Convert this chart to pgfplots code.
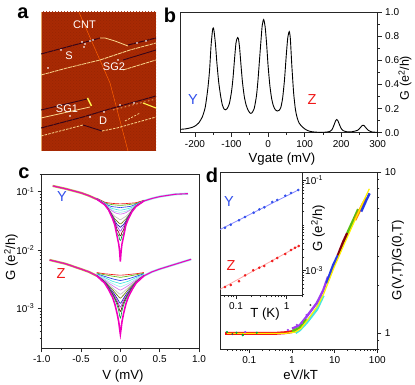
\documentclass[border=0pt]{standalone}
\usepackage{fontspec}
\setmainfont{Liberation Sans}
\usepackage{pgfplots}
\usepackage{pgfplotstable}
\usetikzlibrary{patterns}
\pgfplotsset{compat=1.18}
\definecolor{colr}{RGB}{240,20,20}
\definecolor{colg}{RGB}{90,190,20}
\definecolor{colb}{RGB}{40,60,230}
\definecolor{colc}{RGB}{70,230,225}
\definecolor{coll}{RGB}{160,240,240}
\definecolor{colv}{RGB}{215,110,240}
\definecolor{cola}{RGB}{190,190,190}
\definecolor{colo}{RGB}{110,130,10}
\definecolor{coln}{RGB}{25,25,160}
\definecolor{colu}{RGB}{160,60,240}
\definecolor{cold}{RGB}{130,0,20}
\definecolor{colf}{RGB}{0,170,60}
\definecolor{colm}{RGB}{240,0,190}
\definecolor{afm}{RGB}{168,42,4}
\definecolor{afmd}{RGB}{152,36,2}
\definecolor{dkc}{RGB}{55,5,25}
\definecolor{lite}{RGB}{250,215,140}
\definecolor{lblue}{RGB}{50,80,235}
\definecolor{lred}{RGB}{240,25,25}
\newcommand{\tl}{\fontsize{10}{10}\selectfont}
\newcommand{\al}{\fontsize{13.2}{14}\selectfont}
\newcommand{\pl}{\fontsize{20}{20}\bfseries}
\newcommand{\il}{\fontsize{11}{11}\selectfont}
\newcommand{\yz}{\fontsize{14.5}{15}\selectfont}
\pgfplotstableread{
V r g b c l v a o n u d f m
-0.3 .077 .076 .076 .075 .075 .075 .075 .074 .074 .074 .074 .074 .074
-0.2 .066 .0645 .0635 .063 .0625 .062 .061 .0605 .0603 .06 .06 .06 .0595
-0.15 .064 .0615 .058 .0555 .0535 .0525 .051 .05 .0495 .049 .0488 .0487 .0485
-0.1 .0628 .0595 .055 .051 .048 .046 .0415 .039 .038 .037 .036 .0355 .0345
-0.07 .0622 .059 .0545 .050 .046 .0435 .0375 .034 .0315 .03 .029 .0275 .0265
-0.04 .0618 .0585 .054 .049 .045 .042 .0355 .031 .027 .025 .022 .019 .0167
-0.02 .0617 .0582 .0535 .0483 .0446 .0416 .034 .029 .026 .023 .020 .0175 .0125
-0.01 .0615 .058 .0532 .048 .0442 .0412 .0333 .0283 .025 .0215 .018 .0152 .0095
0 .0615 .058 .053 .048 .044 .041 .033 .028 .0245 .021 .0175 .0145 .0063
0.01 .0615 .058 .0532 .048 .0442 .0412 .0333 .0283 .025 .0215 .018 .0152 .0095
0.02 .0617 .0582 .0535 .0483 .0446 .0416 .034 .029 .026 .023 .020 .0175 .0125
0.04 .0618 .0585 .054 .049 .045 .042 .0355 .031 .027 .025 .022 .019 .0167
0.07 .0622 .059 .0545 .050 .046 .0435 .0375 .034 .0315 .03 .029 .0275 .0265
0.1 .0628 .0595 .055 .051 .048 .046 .041 .038 .037 .036 .0352 .035 .0335
0.15 .0635 .061 .057 .054 .052 .0505 .049 .048 .0472 .047 .0465 .046 .0455
0.2 .0645 .0625 .061 .0595 .0585 .058 .0575 .057 .0565 .0565 .056 .056 .0555
0.3 .071 .07 .07 .07 .07 .07 .069 .069 .069 .069 .069 .069 .069
}\Ytab
\pgfplotstableread{
V r g b c l v a o n u d f m
-0.3 .0041 .0040 .0039 .0038 .00375 .0037 .0037 .00365 .00365 .0036 .0036 .0036 .0036
-0.2 .0039 .00375 .00352 .00335 .00318 .00305 .00295 .00288 .00284 .0028 .00278 .00275 .0027
-0.15 .00385 .00365 .00335 .00312 .0029 .00272 .00258 .00245 .00235 .0023 .00225 .00222 .0021
-0.1 .00378 .00355 .0032 .0029 .00266 .00245 .00224 .0021 .00194 .00185 .00178 .00172 .00155
-0.07 .00375 .0035 .00312 .00282 .00254 .0023 .00207 .00187 .0017 .0016 .0015 .00142 .00118
-0.04 .00372 .00345 .00306 .00275 .00244 .00218 .0019 .00168 .00147 .00135 .00124 .00112 .0008
-0.02 .0037 .00342 .00302 .0027 .00238 .0021 .0018 .00157 .00132 .00118 .00104 .0009 .00058
-0.01 .0037 .0034 .003 .00267 .00235 .00207 .00176 .00152 .00125 .00109 .00093 .00075 .00045
0 .0037 .0034 .00298 .00265 .00233 .00205 .00174 .00149 .00122 .00105 .00088 .00068 .00036
0.01 .0037 .0034 .003 .00267 .00235 .00207 .00176 .00152 .00125 .00109 .00093 .00075 .00045
0.02 .0037 .00342 .00302 .0027 .00238 .0021 .0018 .00157 .00132 .00118 .00104 .0009 .00058
0.04 .00372 .00345 .00306 .00275 .00244 .00218 .0019 .00168 .00147 .00135 .00124 .00112 .0008
0.07 .00375 .0035 .00312 .00282 .00254 .0023 .00207 .00187 .0017 .0016 .0015 .00142 .00118
0.1 .00378 .00355 .0032 .0029 .00266 .00245 .00224 .0021 .00194 .00185 .00178 .00172 .00155
0.15 .00385 .00365 .00335 .00312 .0029 .00272 .00258 .00245 .00235 .0023 .00225 .00222 .0021
0.2 .0039 .00375 .00352 .00335 .00318 .00305 .00295 .00288 .00284 .0028 .00278 .00275 .0027
0.3 .0041 .0040 .0039 .0038 .00375 .0037 .0037 .00365 .00365 .0036 .0036 .0036 .0036
}\Ztab
\pgfplotsset{every axis/.append style={
  scale only axis, axis line style={line width=0.9pt,black!85},
  tick style={line width=0.7pt,black!85}, tick align=outside,
  major tick length=4pt, minor tick length=2pt,
  tick label style={font=\tl}, anchor=south west}}
\begin{document}
\begin{tikzpicture}
\useasboundingbox (0pt,0pt) rectangle (415pt,385pt);
% panel a
\begin{axis}[at={(41pt,234pt)},width=115pt,height=139pt,xmin=41,xmax=156,ymin=12,ymax=151,y dir=reverse,
  ticks=none,axis line style={draw=none},axis background/.style={fill=afm}]
\addplot[draw=none,pattern=crosshatch dots,pattern color=afmd] coordinates {(41,12)(156,12)(156,151)(41,151)} --cycle;
\addplot[color=lite!70!afm,line width=.6pt] coordinates {(41.3,12)(41.3,151)};
\addplot[color=orange!75!red,line width=.5pt] coordinates {(79,12.3)(110,83)(128,151)};
\addplot[color=dkc,line width=1pt,dash pattern=on 6pt off .6pt] coordinates {(41,54)(80,43.5)(100,38)};
\addplot[color=lite,line width=.8pt] coordinates {(100,38)(105,38)(115,41)(128,46)};
\addplot[color=dkc,line width=1pt,dash pattern=on 5pt off .6pt] coordinates {(128,45)(156,38)};
\addplot[color=lite,line width=.8pt,dash pattern=on 4pt off .7pt] coordinates {(41,75)(67,68)(100,60)(130,50)(156,43)};
\addplot[color=dkc,line width=.9pt] coordinates {(123,60)(156,50)};
\addplot[color=lite,line width=.8pt,dash pattern=on 4pt off .7pt] coordinates {(123,70)(156,60)};
\addplot[color=dkc,line width=.9pt] coordinates {(41,110)(87,99)};
\addplot[color=yellow!70!white,line width=1.5pt] coordinates {(87.5,98)(91.5,106)};
\addplot[color=lite,line width=.8pt] coordinates {(41,118)(90,107)};
\addplot[color=dkc,line width=1pt,dash pattern=on 6pt off .6pt] coordinates {(41,128)(83,117)(113,108)(156,96)};
\addplot[color=lite,line width=.8pt,dash pattern=on 2.5pt off 1.2pt] coordinates {(41,136)(83,125)};
\addplot[color=dkc,line width=.9pt] coordinates {(83,125)(102,131)};
\addplot[color=lite,line width=.8pt,dash pattern=on 2.5pt off 1.2pt] coordinates {(102,131)(117,128)(156,117)};
\addplot[color=lite,line width=.7pt,dash pattern=on 2pt off 1.5pt] coordinates {(125,121)(140,113)};
\addplot[color=yellow!70!white,line width=1.1pt] coordinates {(143,103)(156,108)};
\addplot[color=lite,line width=.6pt,dash pattern=on 1.5pt off 2.5pt] coordinates {(113,110)(156,99)};
\addplot[only marks,mark=*,mark size=.5pt,color=white] coordinates {(82,42)(85,44)(90,41)(93,40)(61,50)(48,68)(137,43)(146,41)(84,47)(70,116)(90,117)(104,112)(120,105)(134,103)(118,60)};
\end{axis}
\node[white,font=\il] at (84.5pt,360pt) {CNT};
\node[white,font=\il] at (69pt,329pt) {S};
\node[white,font=\il] at (114pt,318.5pt) {SG2};
\node[white,font=\il] at (67pt,276pt) {SG1};
\node[white,font=\il] at (103pt,264pt) {D};
% panel b
\begin{axis}[at={(180.7pt,252.3pt)},width=197pt,height=120.4pt,xmin=-239,xmax=300,ymin=0,ymax=1,
  xtick={-200,-100,0,100,200,300},xticklabels={-200,-100,0,100,200,300},
  minor xtick={-150,-50,50,150,250},xtick pos=bottom,
  ytick={0,.2,.4,.6,.8,1},yticklabels={0.0,0.2,0.4,0.6,0.8,1.0},minor ytick={.1,.3,.5,.7,.9},
  ytick pos=right,yticklabel pos=right]
\addplot[black,line width=.9pt,smooth,tension=.4] coordinates {
(-239,.028)(-225,.032)(-210,.042)(-200,.055)(-190,.08)(-180,.13)(-172,.21)(-165,.36)(-160,.52)(-156,.72)(-152,.85)(-150,.87)(-148,.85)(-144,.74)(-140,.58)(-135,.42)(-130,.31)(-125,.23)(-120,.195)(-116,.19)(-112,.20)(-106,.24)(-100,.34)(-96,.45)(-92,.60)(-88,.74)(-85,.78)(-83,.79)(-81,.78)(-78,.71)(-74,.56)(-70,.42)(-65,.30)(-60,.23)(-55,.19)(-50,.165)(-47,.16)(-44,.165)(-38,.20)(-32,.30)(-28,.42)(-24,.58)(-20,.74)(-16,.89)(-12,.94)(-8,.88)(-4,.74)(0,.56)(5,.39)(10,.28)(15,.22)(20,.19)(25,.18)(30,.185)(35,.21)(40,.29)(45,.44)(50,.65)(54,.79)(58,.84)(61,.78)(65,.56)(70,.33)(75,.19)(80,.12)(85,.08)(90,.06)(100,.032)(110,.016)(120,.008)(140,.003)(160,.005)(170,.012)(175,.025)(180,.06)(185,.10)(188,.11)(191,.10)(195,.07)(200,.035)(205,.018)(215,.008)(230,.008)(245,.02)(252,.04)(257,.058)(260,.062)(263,.058)(268,.04)(275,.018)(285,.006)(300,.003)};
\end{axis}
\node[font=\al] at (282pt,226pt) {Vgate (mV)};
\node[font=\fontsize{12.5}{13}\selectfont,rotate=90] at (405pt,307pt) {G (e\textsuperscript{2}/h)};
\node[font=\yz,lblue] at (193pt,285pt) {Y};
\node[font=\yz,lred] at (312pt,285pt) {Z};
% panel c
\begin{axis}[at={(41.7pt,36.7pt)},width=157.3pt,height=174.3pt,xmin=-1,xmax=1,ymode=log,ymin=2.06e-4,ymax=0.2,
  xtick={-1,-.5,0,.5,1},xticklabels={-1.0,-0.5,0.0,0.5,1.0},minor xtick={-.75,-.25,.25,.75},xtick pos=bottom,
  ytick={.1,.01,.001},yticklabels={10\textsuperscript{-1},10\textsuperscript{-2},10\textsuperscript{-3}},
  minor ytick={3e-4,4e-4,5e-4,6e-4,7e-4,8e-4,9e-4,2e-3,3e-3,4e-3,5e-3,6e-3,7e-3,8e-3,9e-3,.02,.03,.04,.05,.06,.07,.08,.09,.2},
  ytick pos=left]
\addplot[color=olive!60!white,line width=2.2pt] coordinates {(-.86,.125)(-.7,.112)(-.5,.095)(-.4,.085)(-.3,.074)};
\addplot[color=coll,line width=2.2pt] coordinates {(.3,.069)(.4,.076)(.5,.082)(.7,.09)(.86,.092)};
\pgfplotsinvokeforeach{r,g,b,c,l,v,a,o,n,u,d,f}{\addplot[color=col#1,line width=.65pt,smooth,tension=.4] table[x=V,y=#1]{\Ytab};}
\addplot[color=colm,line width=1.5pt] table[x=V,y=m]{\Ytab};
\addplot[color=colm,line width=1.1pt] coordinates {(-.86,.125)(-.7,.112)(-.5,.095)(-.4,.085)(-.3,.074)};
\addplot[color=colm,line width=1.1pt] coordinates {(.3,.069)(.4,.076)(.5,.082)(.7,.09)(.86,.092)};
\addplot[color=olive!60!white,line width=2.2pt] coordinates {(-.9,.00673)(-.7,.0058)(-.5,.0047)(-.4,.0042)(-.3,.0036)};
\addplot[color=coll,line width=2.2pt] coordinates {(.3,.0036)(.4,.0042)(.5,.0047)(.7,.0057)(.9,.0069)};
\pgfplotsinvokeforeach{r,g,b,c,l,v,a,o,n,u,d,f}{\addplot[color=col#1,line width=.65pt,smooth,tension=.4] table[x=V,y=#1]{\Ztab};}
\addplot[color=colm,line width=1.6pt] table[x=V,y=m]{\Ztab};
\addplot[color=colm,line width=1.1pt] coordinates {(-.9,.00673)(-.7,.0058)(-.5,.0047)(-.4,.0042)(-.3,.0036)};
\addplot[color=colm,line width=1.1pt] coordinates {(.3,.0036)(.4,.0042)(.5,.0047)(.7,.0057)(.9,.0069)};
\end{axis}
\node[font=\al] at (123pt,9pt) {V (mV)};
\node[font=\al,rotate=90] at (11pt,128pt) {G (e\textsuperscript{2}/h)};
\node[font=\yz,lblue] at (62pt,188pt) {Y};
\node[font=\yz,lred] at (61pt,111pt) {Z};
% panel d main
\begin{axis}[at={(220pt,36pt)},width=157.3pt,height=176.7pt,xmode=log,ymode=log,xmin=.0205,xmax=100,ymin=.8,ymax=10,
  xtick={.1,1,10,100},xticklabels={0.1,1,10,100},
  minor xtick={.03,.04,.05,.06,.07,.08,.09,.2,.3,.4,.5,.6,.7,.8,.9,2,3,4,5,6,7,8,9,20,30,40,50,60,70,80,90},xtick pos=bottom,
  ytick={1,10},yticklabels={1,10},minor ytick={.8,.9,2,3,4,5,6,7,8,9},ytick pos=right,yticklabel pos=right]
\addplot[color=colr,line width=3pt] coordinates {(.027,1)(.05,1)(.1,1)(.2,1)(.4,1)(.7,1.01)(1,1.025)(1.3,1.05)};
\addplot[color=colc,line width=3pt] coordinates {(1.2,1.01)(1.5,1.05)(2.2,1.17)(3.8,1.41)(5.4,1.72)};
\addplot[color=colu,line width=2.4pt] coordinates {(1,1.07)(1.5,1.12)(2.2,1.27)(3.8,1.54)(5.4,1.85)(7,2.25)};
\addplot[color=colg,line width=2.4pt] coordinates {(1,1.03)(1.5,1.08)(2.2,1.22)};
\addplot[color=colb,line width=2.8pt] coordinates {(6.5,2.05)(9.3,2.65)(12,3.05)};
\addplot[color=cold,line width=2.8pt] coordinates {(12,3.05)(16,3.7)(20,4.2)};
\addplot[color=colg,line width=2.8pt] coordinates {(20,4.2)(30,5.3)(36,5.9)};
\addplot[color=orange,line width=2.8pt] coordinates {(30,5.05)(45,6.3)(55,6.9)};
\addplot[color=colb,line width=2.4pt] coordinates {(42,5.7)(55,6.7)(66,7.4)};
\addplot[color=yellow,line width=1.2pt] coordinates {(.03,1)(.1,1)(.4,1)(.7,1)(1.2,1.02)(1.6,1.07)(2.3,1.21)(4,1.48)(5.6,1.77)(9.6,2.55)(16.5,3.55)(31,5.15)(46,6.5)(65,7.9)};
\addplot[only marks,mark=*,mark size=.9pt,color=colu] coordinates {(1.3,1.13)(1.7,1.16)(2.2,1.3)(.8,1.05)(.08,1.02)};
\addplot[only marks,mark=*,mark size=.8pt,color=black!70] coordinates {(2.7,1.5)(.04,.99)(.07,.98)};
\addplot[only marks,mark=*,mark size=.9pt,color=colf] coordinates {(.03,1.02)(.05,1.01)(.07,.975)(.15,1.01)};
\end{axis}
\node[font=\al] at (300.7pt,10pt) {eV/kT};
\node[font=\al,rotate=90] at (398pt,125pt) {G(V,T)/G(0,T)};
% inset
\begin{axis}[at={(220pt,89.3pt)},width=82.7pt,height=123.4pt,xmode=log,ymode=log,xmin=.0483,xmax=2.07,ymin=2.79e-4,ymax=.148,
  axis background/.style={fill=white},axis line style={line width=.8pt},
  major tick length=3pt,minor tick length=1.6pt,
  xtick={.1,1},xticklabels={0.1,1},minor xtick={.06,.07,.08,.09,.2,.3,.4,.5,.6,.7,.8,.9,2},xtick pos=bottom,
  ytick={.1,.001},yticklabels={10\textsuperscript{-1},10\textsuperscript{-3}},
  minor ytick={3e-4,4e-4,5e-4,6e-4,7e-4,8e-4,9e-4,2e-3,3e-3,4e-3,5e-3,6e-3,7e-3,8e-3,9e-3,.01,.02,.03,.04,.05,.06,.07,.08,.09},
  ytick pos=right,yticklabel pos=right,yticklabel style={xshift=-4pt}]
\addplot[color=blue!45!white,line width=.8pt] coordinates {(.0483,.00805)(1.694,.0601)};
\addplot[only marks,mark=*,mark size=1.1pt,color=lblue] coordinates {(.0607,.00885)(.0785,.0103)(.1146,.0129)(.151,.01524)(.2234,.019)(.288,.0225)(.361,.0249)(.52,.0327)(.653,.0362)(.938,.045)(1.216,.0516)(1.694,.0601)};
\addplot[color=red!35!white,line width=.8pt] coordinates {(.0483,.000386)(1.726,.00349)};
\addplot[only marks,mark=*,mark size=1.1pt,color=lred] coordinates {(.0607,.000435)(.0785,.000481)(.1146,.000581)(.151,.000787)(.219,.001016)(.288,.001159)(.361,.001265)(.52,.00163)(.653,.001897)(.938,.00232)(1.216,.00285)(1.459,.00321)(1.726,.00349)};
\end{axis}
\node[font=\al] at (265pt,71pt) {T (K)};
\node[font=\al,rotate=90] at (318pt,157pt) {G (e\textsuperscript{2}/h)};
\node[font=\yz,lblue] at (229pt,183pt) {Y};
\node[font=\yz,lred] at (231pt,119pt) {Z};
% panel letters
\node[font=\pl] at (23pt,372pt) {a};
\node[font=\pl] at (170pt,370pt) {b};
\node[font=\pl] at (24pt,212pt) {c};
\node[font=\pl] at (212pt,210pt) {d};
\end{tikzpicture}
\end{document}
